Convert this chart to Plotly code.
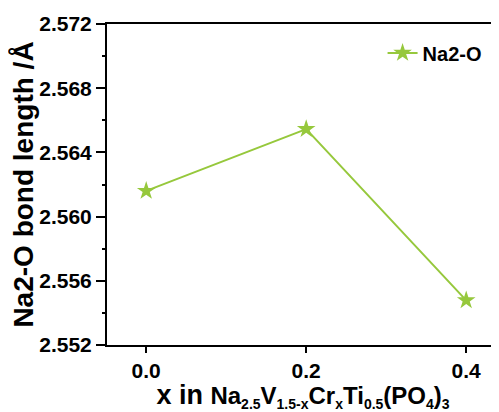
import plotly.graph_objects as go

x_vals = [0.0, 0.2, 0.4]
bond_len = [2.56160, 2.56545, 2.55478]
series_name = "Na2-O"
x_ticks = [0.0, 0.2, 0.4]
x_ticklabels = ["0.0", "0.2", "0.4"]
y_ticks = [2.552, 2.556, 2.560, 2.564, 2.568, 2.572]
y_ticklabels = ["2.552", "2.556", "2.560", "2.564", "2.568", "2.572"]

green = "#96C83C"
FONT = "Liberation Sans, Arial, sans-serif"


def sub(s):
    return '<sub><span style="font-size:14px">' + s + '</span></sub>'


x_title = ('x in <span style="font-size:24px">Na' + sub("2.5") + 'V' + sub("1.5-x") +
           'Cr' + sub("x") + 'Ti' + sub("0.5") + '(PO' + sub("4") + ')' + sub("3") + '</span>')

fig = go.Figure()
fig.add_trace(go.Scatter(
    x=x_vals, y=bond_len, mode="lines+markers", name=series_name,
    line=dict(color=green, width=2),
    marker=dict(symbol="star", size=14, color=green),
))

# page body has an 8px margin, so the figure is offset by 8px
fig.update_layout(
    width=491, height=404,
    margin=dict(l=99, r=0, t=16, b=67, autoexpand=False),
    paper_bgcolor="white", plot_bgcolor="white",
    font=dict(family=FONT, color="black", weight="bold"),
    showlegend=True,
    legend=dict(x=0.703, y=0.91, xanchor="left", yanchor="middle",
                font=dict(size=20, family=FONT, color="black", weight="bold"),
                bgcolor="rgba(0,0,0,0)"),
)
fig.update_xaxes(
    range=[-0.049, 0.441], automargin=False,
    tickvals=x_ticks, ticktext=x_ticklabels,
    ticks="outside", ticklen=6, tickwidth=2, tickcolor="black",
    showline=True, linecolor="black", linewidth=2, mirror=True,
    showgrid=False, zeroline=False,
    tickfont=dict(size=21, family=FONT, weight="bold"),
    title=dict(text=x_title, font=dict(size=27, family=FONT, weight="bold"), standoff=2),
)
fig.update_yaxes(
    range=[2.552, 2.572], automargin=False,
    tickvals=y_ticks, ticktext=y_ticklabels,
    ticks="outside", ticklen=9, tickwidth=2, tickcolor="black",
    minor=dict(ticks="outside", ticklen=3, tickwidth=1.5, tickcolor="black", dtick=0.002, tick0=2.552),
    showline=True, linecolor="black", linewidth=2, mirror=False,
    showgrid=False, zeroline=False,
    tickfont=dict(size=21, family=FONT, weight="bold"),
    title=dict(text="Na2-O bond length /Å",
               font=dict(size=28, family=FONT, weight="bold"), standoff=10),
)

fig.write_html("out.html")
